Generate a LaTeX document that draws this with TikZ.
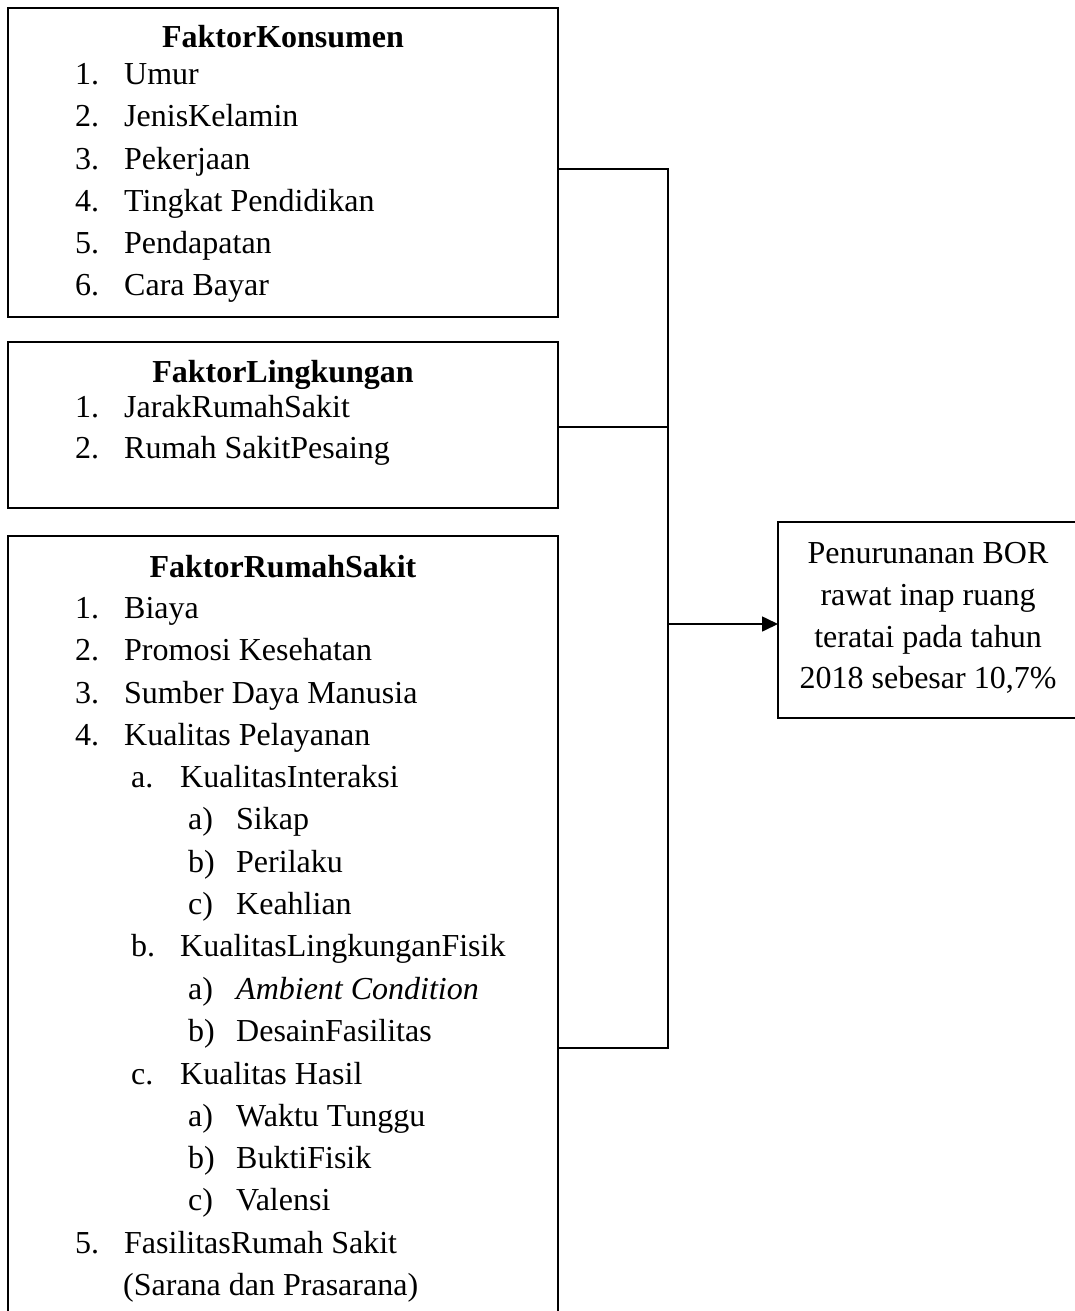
\documentclass[tikz,border=0pt]{standalone}
\usepackage{fontspec}
\setmainfont{Liberation Serif}
\usetikzlibrary{arrows.meta}
\newcommand\fsz{\fontsize{32}{42}\selectfont}
\begin{document}
\begin{tikzpicture}[x=1pt,y=-1pt,
  box/.style={draw, line width=1.6pt, inner sep=0pt, outer sep=0pt, anchor=north west},
  lbl/.style={anchor=base west, inner sep=0pt, font=\fsz},
  ttl/.style={anchor=base, inner sep=0pt, font=\fsz\bfseries},
  ctr/.style={anchor=base, inner sep=0pt, font=\fsz},
  wire/.style={line width=1.6pt}]
\useasboundingbox (0,0) rectangle (1075,1311);

% boxes
\node[box, minimum width=550pt, minimum height=309pt] (b1) at (8,8) {};
\node[box, minimum width=550pt, minimum height=166pt] (b2) at (8,342) {};
\node[box, minimum width=550pt, minimum height=790pt] (b3) at (8,536) {};
\node[box, minimum width=300pt, minimum height=196pt] (b4) at (778,522) {};

% box 1
\node[ttl] (t1) at (283,48) {FaktorKonsumen};
\node[lbl] (k1n) at (75,85) {1.};  \node[lbl] (k1) at (124,85) {Umur};
\node[lbl] (k2n) at (75,127) {2.}; \node[lbl] (k2) at (124,127) {JenisKelamin};
\node[lbl] (k3n) at (75,169) {3.}; \node[lbl] (k3) at (124,169) {Pekerjaan};
\node[lbl] (k4n) at (75,211) {4.}; \node[lbl] (k4) at (124,211) {Tingkat Pendidikan};
\node[lbl] (k5n) at (75,253) {5.}; \node[lbl] (k5) at (124,253) {Pendapatan};
\node[lbl] (k6n) at (75,295) {6.}; \node[lbl] (k6) at (124,295) {Cara Bayar};

% box 2
\node[ttl] (t2) at (283,382) {FaktorLingkungan};
\node[lbl] (l1n) at (75,417) {1.}; \node[lbl] (l1) at (124,417) {JarakRumahSakit};
\node[lbl] (l2n) at (75,458) {2.}; \node[lbl] (l2) at (124,458) {Rumah SakitPesaing};

% box 3
\node[ttl] (t3) at (283,577) {FaktorRumahSakit};
\node[lbl] (r1n) at (75,618) {1.}; \node[lbl] (r1) at (124,618) {Biaya};
\node[lbl] (r2n) at (75,660) {2.}; \node[lbl] (r2) at (124,660) {Promosi Kesehatan};
\node[lbl] (r3n) at (75,703) {3.}; \node[lbl] (r3) at (124,703) {Sumber Daya Manusia};
\node[lbl] (r4n) at (75,745) {4.}; \node[lbl] (r4) at (124,745) {Kualitas Pelayanan};
\node[lbl] (r4an) at (131,787) {a.}; \node[lbl] (r4a) at (180,787) {KualitasInteraksi};
\node[lbl] (r4a1n) at (188,829) {a)}; \node[lbl] (r4a1) at (236,829) {Sikap};
\node[lbl] (r4a2n) at (188,872) {b)}; \node[lbl] (r4a2) at (236,872) {Perilaku};
\node[lbl] (r4a3n) at (188,914) {c)}; \node[lbl] (r4a3) at (236,914) {Keahlian};
\node[lbl] (r4bn) at (131,956) {b.}; \node[lbl] (r4b) at (180,956) {KualitasLingkunganFisik};
\node[lbl] (r4b1n) at (188,999) {a)}; \node[lbl] (r4b1) at (236,999) {\itshape Ambient Condition};
\node[lbl] (r4b2n) at (188,1041) {b)}; \node[lbl] (r4b2) at (236,1041) {DesainFasilitas};
\node[lbl] (r4cn) at (131,1084) {c.}; \node[lbl] (r4c) at (180,1084) {Kualitas Hasil};
\node[lbl] (r4c1n) at (188,1126) {a)}; \node[lbl] (r4c1) at (236,1126) {Waktu Tunggu};
\node[lbl] (r4c2n) at (188,1168) {b)}; \node[lbl] (r4c2) at (236,1168) {BuktiFisik};
\node[lbl] (r4c3n) at (188,1210) {c)}; \node[lbl] (r4c3) at (236,1210) {Valensi};
\node[lbl] (r5n) at (75,1253) {5.}; \node[lbl] (r5) at (124,1253) {FasilitasRumah Sakit};
\node[lbl] (r5b) at (123,1295) {(Sarana dan Prasarana)};

% box 4
\node[ctr] (o1) at (928,563) {Penurunanan BOR};
\node[ctr] (o2) at (928,605) {rawat inap ruang};
\node[ctr] (o3) at (928,647) {teratai pada tahun};
\node[ctr] (o4) at (928,688) {2018 sebesar 10,7\%};

% connectors
\coordinate (j1) at (668,169);
\coordinate (j2) at (668,427);
\coordinate (j3) at (668,1048);
\coordinate (ja) at (668,624);
\draw[wire] (b1.east |- j1) -- (j1) -- (j3) -- (b3.east |- j3);
\draw[wire] (b2.east |- j2) -- (j2);
\draw[wire, -{Triangle[length=16pt,width=15pt]}] (ja) -- (b4.west |- ja);
\end{tikzpicture}
\end{document}
